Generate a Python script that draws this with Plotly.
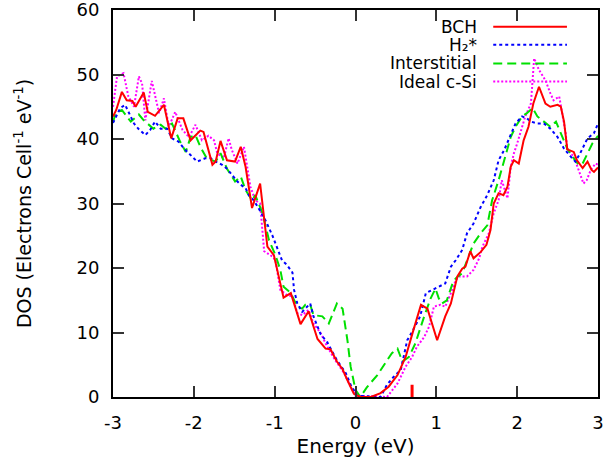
import plotly.graph_objects as go

# ---------------- data ----------------
bch_e = [-3.0, -2.96, -2.89, -2.83, -2.76, -2.72, -2.62, -2.57, -2.48, -2.37, -2.28, -2.20, -2.13, -2.04,
         -1.92, -1.88, -1.77, -1.73, -1.67, -1.59, -1.49, -1.42, -1.36, -1.28, -1.18, -1.09, -1.01, -0.89,
         -0.80, -0.68, -0.58, -0.47, -0.37, -0.31, -0.23, -0.16, -0.10, -0.02, 0.06, 0.19, 0.31, 0.41, 0.52,
         0.62, 0.71, 0.81, 0.89, 1.01, 1.11, 1.18, 1.26, 1.32, 1.36, 1.42, 1.46, 1.55, 1.62, 1.67, 1.71, 1.77,
         1.83, 1.88, 1.92, 1.96, 2.02, 2.08, 2.14, 2.20, 2.27, 2.35, 2.41, 2.50, 2.54, 2.58, 2.62, 2.70, 2.74,
         2.81, 2.87, 2.92, 2.95, 3.0]
bch_dos = [43.5, 44.5, 47.3, 46.0, 45.9, 45.0, 47.2, 44.2, 43.6, 45.3, 40.1, 43.2, 43.2, 39.8,
           41.3, 41.1, 36.0, 36.5, 39.7, 36.7, 36.5, 38.8, 35.7, 29.3, 33.1, 23.3, 22.0, 15.4,
           16.1, 11.3, 13.3, 9.0, 7.5, 7.4, 5.5, 4.3, 2.6, 0.5, 0.0, 0.0, 0.6, 1.6, 3.4,
           6.2, 10.1, 14.3, 13.7, 8.8, 12.5, 14.5, 18.7, 19.9, 20.2, 22.6, 21.5, 22.5, 23.6, 25.9, 30.0, 31.6,
           31.3, 32.6, 35.7, 36.7, 36.2, 39.8, 41.9, 45.5, 48.1, 45.5, 45.0, 45.3, 45.0, 42.7, 38.4, 38.0, 36.7,
           35.5, 36.5, 35.2, 34.9, 35.6]

h2_e = [-3.0, -2.97, -2.91, -2.85, -2.74, -2.68, -2.60, -2.54, -2.48, -2.41, -2.33, -2.27, -2.19, -2.12,
        -2.06, -1.96, -1.86, -1.79, -1.73, -1.65, -1.59, -1.53, -1.46, -1.42, -1.36, -1.32, -1.26, -1.20,
        -1.11, -1.03, -0.97, -0.91, -0.85, -0.78, -0.76, -0.72, -0.66, -0.56, -0.52, -0.43, -0.35, -0.31,
        -0.23, -0.12, -0.06, 0.02, 0.31, 0.39, 0.47, 0.56, 0.64, 0.70, 0.80, 0.87, 0.97, 1.03, 1.11, 1.18,
        1.24, 1.32, 1.38, 1.46, 1.55, 1.63, 1.71, 1.77, 1.84, 1.92, 1.98, 2.06, 2.12, 2.17, 2.25, 2.33, 2.41,
        2.50, 2.58, 2.66, 2.72, 2.78, 2.87, 2.95, 3.0]
h2_dos = [42.5, 43.2, 44.8, 45.3, 42.4, 41.5, 40.6, 41.4, 42.7, 41.6, 41.6, 40.1, 39.6, 38.5,
          37.8, 36.5, 37.0, 37.0, 36.5, 36.0, 35.4, 34.4, 33.4, 32.9, 32.4, 31.3, 30.5, 29.3,
          27.3, 25.1, 23.3, 21.2, 20.5, 19.3, 16.6, 14.5, 13.2, 14.5, 12.5, 9.7, 8.5, 7.5,
          5.7, 3.7, 1.9, 0.2, 0.0, 1.9, 3.1, 4.2, 8.8, 10.1, 12.5, 16.1, 16.8, 17.1, 17.6, 20.2,
          21.2, 22.8, 25.4, 26.9, 29.5, 31.3, 33.6, 36.7, 38.3, 40.6, 42.4, 43.5, 43.2, 42.7, 42.4, 42.4, 41.6,
          40.3, 38.5, 37.3, 36.5, 37.8, 40.1, 40.9, 42.4]

int_e = [-3.0, -2.97, -2.89, -2.78, -2.68, -2.62, -2.50, -2.41, -2.35, -2.27, -2.17, -2.10, -2.04, -1.98,
         -1.92, -1.84, -1.73, -1.67, -1.59, -1.49, -1.42, -1.36, -1.28, -1.24, -1.15, -1.07, -0.99, -0.93,
         -0.89, -0.80, -0.72, -0.66, -0.62, -0.56, -0.52, -0.41, -0.33, -0.23, -0.16, -0.10, -0.06, 0.0,
         0.06, 0.14, 0.27, 0.39, 0.45, 0.52, 0.58, 0.66, 0.74, 0.85, 0.93, 0.99, 1.03, 1.07, 1.13, 1.20,
         1.24, 1.32, 1.38, 1.46, 1.55, 1.63, 1.69, 1.77, 1.84, 1.92, 1.98, 2.06, 2.12, 2.19, 2.25, 2.33,
         2.41, 2.48, 2.54, 2.62, 2.70, 2.76, 2.81, 2.87, 2.93, 3.0]
int_dos = [42.5, 44.0, 44.5, 42.7, 43.8, 42.9, 41.6, 42.2, 41.6, 42.4, 39.6, 38.0, 40.3, 40.6,
           38.8, 37.0, 36.5, 37.8, 35.4, 33.4, 34.2, 32.1, 30.5, 31.3, 28.5, 24.3, 22.0, 19.7,
           17.1, 16.1, 14.0, 13.7, 14.3, 14.3, 12.7, 12.5, 11.4, 14.5, 13.7, 8.8, 4.7, 1.1,
           0.0, 1.5, 3.4, 5.6, 6.8, 7.5, 5.5, 6.2, 8.3, 12.5, 15.3, 16.8, 15.3, 14.5, 15.0, 17.6,
           18.4, 19.2, 21.2, 23.8, 25.4, 26.6, 30.5, 33.6, 36.7, 40.3, 41.9, 43.5, 44.0, 44.8, 43.5, 42.7,
           41.9, 42.7, 40.9, 38.5, 37.0, 36.0, 36.2, 37.8, 39.3, 40.5]

csi_e = [-3.0, -2.95, -2.87, -2.81, -2.74, -2.68, -2.64, -2.60, -2.52, -2.43, -2.37, -2.31, -2.23, -2.14,
         -2.06, -1.98, -1.90, -1.82, -1.75, -1.71, -1.63, -1.57, -1.53, -1.46, -1.38, -1.34, -1.30, -1.24,
         -1.18, -1.13, -1.03, -0.99, -0.93, -0.85, -0.78, -0.72, -0.66, -0.58, -0.52, -0.43, -0.35, -0.25,
         -0.14, -0.06, 0.0, 0.39, 0.43, 0.52, 0.62, 0.70, 0.76, 0.85, 0.91, 0.97, 1.05, 1.11, 1.18, 1.24,
         1.28, 1.38, 1.46, 1.53, 1.57, 1.65, 1.71, 1.77, 1.81, 1.88, 1.92, 1.96, 2.00, 2.04, 2.10, 2.17,
         2.21, 2.27, 2.35, 2.41, 2.45, 2.52, 2.56, 2.60, 2.62, 2.70, 2.76, 2.82, 2.86, 2.91, 2.97, 3.0]
csi_dos = [45.0, 49.7, 50.2, 46.6, 45.0, 49.7, 48.6, 42.9, 49.0, 44.0, 46.3, 41.9, 44.2, 41.4,
           40.3, 42.2, 39.8, 40.5, 39.8, 37.8, 37.0, 40.1, 38.3, 36.2, 38.8, 35.7, 32.6, 30.5,
           30.0, 22.6, 21.8, 21.2, 16.6, 15.8, 15.6, 13.0, 12.7, 13.5, 11.4, 9.9, 7.8, 5.7,
           3.7, 1.6, 0.2, 0.0, 0.6, 2.1, 4.7, 6.2, 7.8, 9.3, 10.9, 14.0, 14.3, 14.0, 16.1, 18.1,
           18.7, 18.7, 19.7, 21.5, 23.3, 25.4, 28.5, 30.5, 33.6, 30.8, 35.7, 37.8, 39.3, 40.9, 43.5, 45.5,
           52.5, 50.7, 49.1, 47.1, 46.0, 46.6, 44.0, 40.9, 38.3, 37.3, 35.2, 33.1, 33.6, 35.2, 36.2, 36.0]

# Fermi-level marker of the BCH configuration
fermi_e = [0.70, 0.70]
fermi_dos = [0.0, 1.9]

series_names = ["BCH", "H\u2082*", "Interstitial", "Ideal c-Si"]
x_ticks = [-3, -2, -1, 0, 1, 2, 3]
y_ticks = [0, 10, 20, 30, 40, 50, 60]

# ---------------- styles ----------------
styles = [
    dict(color="#ff0000", width=2, dash="solid"),
    dict(color="#0000ff", width=2, dash="3px,3px"),
    dict(color="#00e000", width=2, dash="9px,5px"),
    dict(color="#ff00ff", width=2, dash="2px,2px"),
]
FONT = "DejaVu Sans"

fig = go.Figure()
data = [(bch_e, bch_dos), (h2_e, h2_dos), (int_e, int_dos), (csi_e, csi_dos)]
# draw in reverse so BCH ends on top
for i in [3, 2, 1, 0]:
    xs, ys = data[i]
    fig.add_trace(go.Scatter(x=xs, y=ys, mode="lines", name=series_names[i],
                             line=styles[i], showlegend=False, hoverinfo="x+y"))

fig.add_trace(go.Scatter(x=fermi_e, y=fermi_dos, mode="lines",
                         line=dict(color="#ff0000", width=3), showlegend=False))

# gnuplot-style key: right-aligned labels, line samples on the right
row_y = [0.957, 0.910, 0.862, 0.815]
for i, name in enumerate(series_names):
    fig.add_annotation(x=0.752, y=row_y[i], xref="paper", yref="paper", text=name,
                       showarrow=False, xanchor="right", yanchor="middle",
                       borderpad=0,
                       font=dict(family=FONT, size=17, color="black"))
    fig.add_shape(type="line", xref="paper", yref="paper", x0=0.784, x1=0.936,
                  y0=row_y[i], y1=row_y[i], line=styles[i])

axis_common = dict(showline=True, mirror="allticks", linecolor="black", linewidth=2,
                   ticks="inside", ticklen=11, tickwidth=1.5, tickcolor="#333333",
                   showgrid=False, zeroline=False, automargin=False,
                   ticklabeloverflow="allow",
                   tickfont=dict(family=FONT, size=18, color="black"))

fig.update_xaxes(range=[-3, 3], tickvals=x_ticks, ticktext=[str(v) for v in x_ticks],
                 title=dict(text="Energy (eV)", font=dict(family=FONT, size=20, color="black"), standoff=7),
                 ticklabelstandoff=8, **axis_common)
fig.update_yaxes(range=[0, 60], tickvals=y_ticks, ticktext=[str(v) for v in y_ticks],
                 title=dict(text="DOS (Electrons Cell<sup>-1</sup> eV<sup>-1</sup>)",
                            font=dict(family=FONT, size=19, color="black"), standoff=40),
                 ticklabelstandoff=8, **axis_common)

fig.update_layout(template="none", width=608, height=460, margin=dict(l=113, r=10, t=10, b=63),
                  plot_bgcolor="white", paper_bgcolor="white",
                  font=dict(family=FONT, color="black"))

fig.write_html("out.html")
